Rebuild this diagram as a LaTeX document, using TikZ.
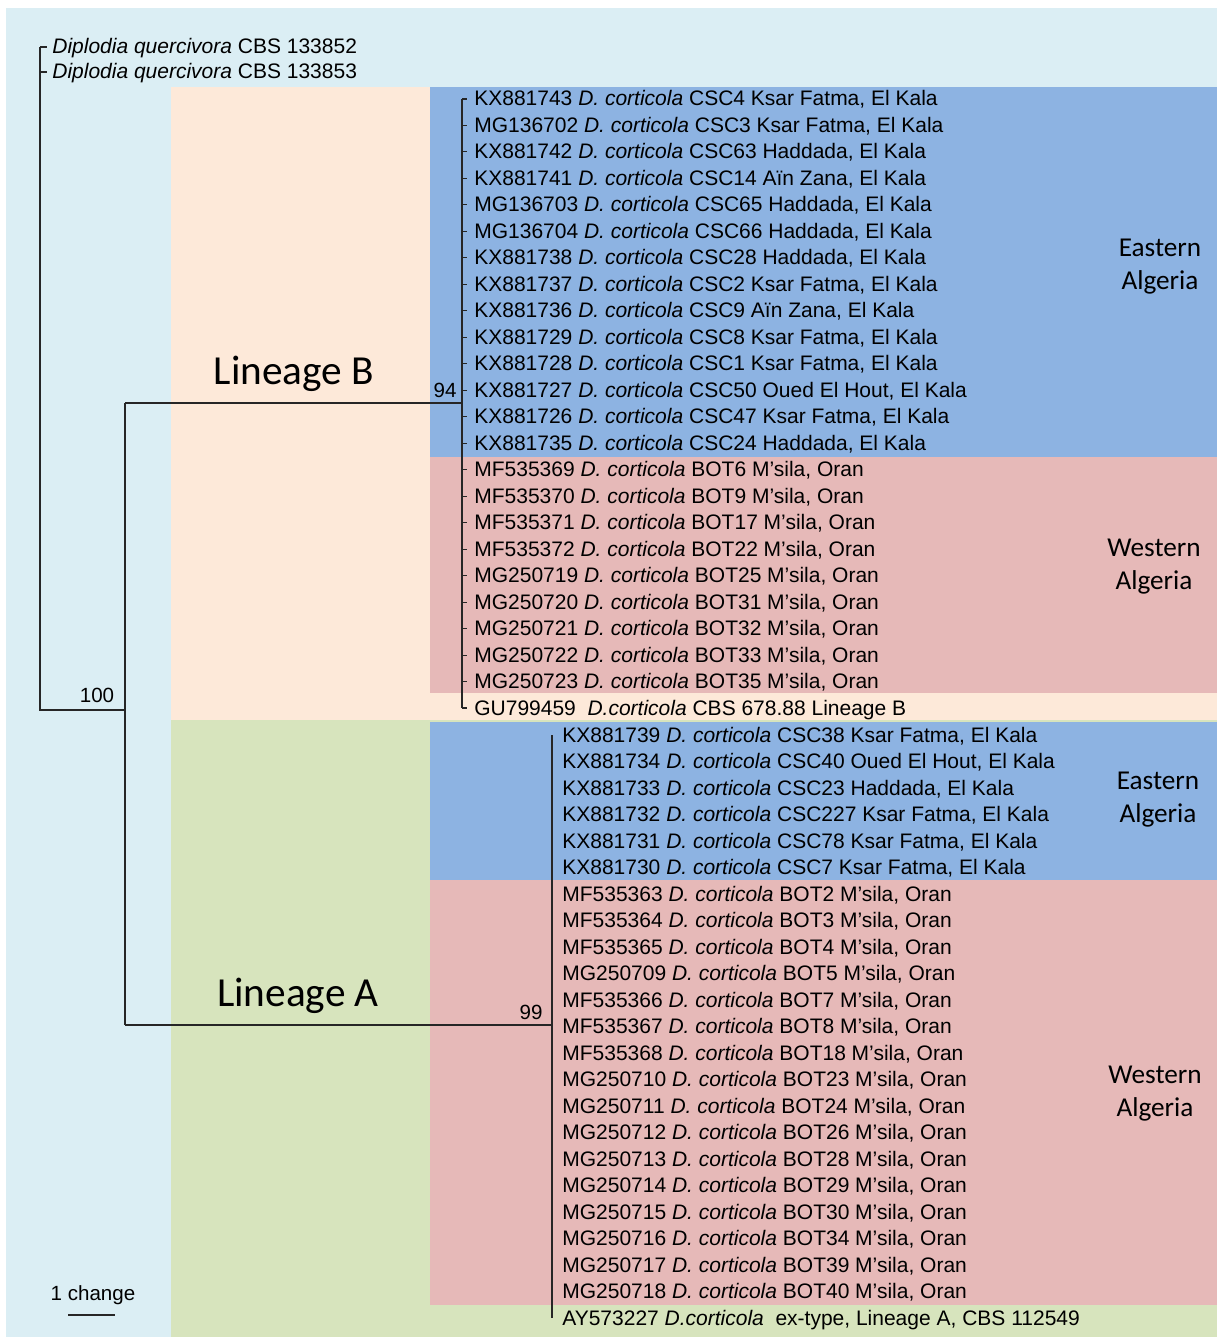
\documentclass[tikz,border=0pt]{standalone}
\usepackage{fontspec}
\setmainfont{Liberation Sans}
\newfontfamily\calfont{Carlito}
\definecolor{bgblue}{HTML}{DBEEF4}
\definecolor{peach}{HTML}{FDE9D9}
\definecolor{lgreen}{HTML}{D7E4BD}
\definecolor{eblue}{HTML}{8DB3E2}
\definecolor{wpink}{HTML}{E6B9B8}
\begin{document}
\begin{tikzpicture}[x=0.02cm,y=-0.02cm,
  tip/.style={anchor=base west,inner sep=0pt,font=\fontsize{11.95}{13.5}\selectfont},
  branch/.style={line width=1.1pt,black!85},
  ticks/.style={line width=0.6pt,black!85},
  support/.style={anchor=base,inner sep=0pt,font=\fontsize{11.7}{13}\selectfont},
  region/.style={align=center,inner sep=0pt,font=\calfont\fontsize{15.5}{18.7}\selectfont},
  lineage/.style={anchor=base,inner sep=0pt,font=\calfont\fontsize{23.5}{26}\selectfont}]
\useasboundingbox (0,0) rectangle (1217,1337);
\fill[white] (0,0) rectangle (1217,1337);
\fill[bgblue] (6,8) rectangle (1217,1337);
\fill[peach] (171,87) rectangle (1217,720);
\fill[lgreen] (171,720) rectangle (1217,1337);
\fill[eblue] (430,87) rectangle (1217,457);
\fill[wpink] (430,457) rectangle (1217,693);
\fill[eblue] (430,722) rectangle (1217,880);
\fill[wpink] (430,880) rectangle (1217,1305);

% outgroup
\node[tip] (og1) at (52,54) {\textit{Diplodia quercivora} CBS 133852};
\node[tip] (og2) at (52,79) {\textit{Diplodia quercivora} CBS 133853};
\coordinate (r1) at (40,47);
\coordinate (r2) at (40,72);
\coordinate (root) at (40,710);
\coordinate (n100) at (125,710);
\coordinate (n100t) at (125,403);
\coordinate (n100b) at (125,1025);
\coordinate (nB) at (462,403);
\coordinate (nA) at (552,1025);
\coordinate (nBtop) at (462,99);
\coordinate (nBbot) at (462,708);
\coordinate (nAtop) at (552,735);
\coordinate (nAbot) at (552,1318);
\draw[branch] (r1) -- ++(7,0);
\draw[branch] (r2) -- ++(7,0);
\draw[branch] (r1) -- (root) -- (n100);
\draw[branch] (n100t) -- (n100b);
\draw[branch] (n100t) -- (nB);
\draw[branch] (n100b) -- (nA);
\draw[branch] (nBtop) -- (nBbot);
\draw[branch] (nAtop) -- (nAbot);
\node[support] (s100) at (97,702) {100};
\node[support] (s94) at (445,398) {94};
\node[support] (s99) at (531,1019) {99};

% Lineage B tips
\foreach \acc/\rest [count=\i] in {
 KX881743/{CSC4 Ksar Fatma, El Kala},
 MG136702/{CSC3 Ksar Fatma, El Kala},
 KX881742/{CSC63 Haddada, El Kala},
 KX881741/{CSC14 Aïn Zana, El Kala},
 MG136703/{CSC65 Haddada, El Kala},
 MG136704/{CSC66 Haddada, El Kala},
 KX881738/{CSC28 Haddada, El Kala},
 KX881737/{CSC2 Ksar Fatma, El Kala},
 KX881736/{CSC9 Aïn Zana, El Kala},
 KX881729/{CSC8 Ksar Fatma, El Kala},
 KX881728/{CSC1 Ksar Fatma, El Kala},
 KX881727/{CSC50 Oued El Hout, El Kala},
 KX881726/{CSC47 Ksar Fatma, El Kala},
 KX881735/{CSC24 Haddada, El Kala},
 MF535369/{BOT6 M’sila, Oran},
 MF535370/{BOT9 M’sila, Oran},
 MF535371/{BOT17 M’sila, Oran},
 MF535372/{BOT22 M’sila, Oran},
 MG250719/{BOT25 M’sila, Oran},
 MG250720/{BOT31 M’sila, Oran},
 MG250721/{BOT32 M’sila, Oran},
 MG250722/{BOT33 M’sila, Oran},
 MG250723/{BOT35 M’sila, Oran}} {
  \pgfmathsetmacro\yy{99+(\i-1)*26.48}
  \coordinate (bt\i) at (462,\yy);
  \node[tip] (b\i) at (474,\yy+7) {\acc\ \textit{D. corticola} \rest};
  \draw[ticks] (bt\i) -- ++(5,0);
}
\coordinate (bt24) at (462,708);
\node[tip] (b24) at (474,715) {GU799459\ \ \textit{D.corticola} CBS 678.88 Lineage B};
\draw[ticks] (bt24) -- ++(5,0);

% Lineage A tips
\foreach \acc/\rest [count=\i] in {
 KX881739/{CSC38 Ksar Fatma, El Kala},
 KX881734/{CSC40 Oued El Hout, El Kala},
 KX881733/{CSC23 Haddada, El Kala},
 KX881732/{CSC227 Ksar Fatma, El Kala},
 KX881731/{CSC78 Ksar Fatma, El Kala},
 KX881730/{CSC7 Ksar Fatma, El Kala},
 MF535363/{BOT2 M’sila, Oran},
 MF535364/{BOT3 M’sila, Oran},
 MF535365/{BOT4 M’sila, Oran},
 MG250709/{BOT5 M’sila, Oran},
 MF535366/{BOT7 M’sila, Oran},
 MF535367/{BOT8 M’sila, Oran},
 MF535368/{BOT18 M’sila, Oran},
 MG250710/{BOT23 M’sila, Oran},
 MG250711/{BOT24 M’sila, Oran},
 MG250712/{BOT26 M’sila, Oran},
 MG250713/{BOT28 M’sila, Oran},
 MG250714/{BOT29 M’sila, Oran},
 MG250715/{BOT30 M’sila, Oran},
 MG250716/{BOT34 M’sila, Oran},
 MG250717/{BOT39 M’sila, Oran},
 MG250718/{BOT40 M’sila, Oran}} {
  \pgfmathsetmacro\yy{735+(\i-1)*26.5}
  \node[tip] (a\i) at (562,\yy+7) {\acc\ \textit{D. corticola} \rest};
}
\node[tip] (a23) at (562,1325) {AY573227 \textit{D.corticola}\ \ ex-type, Lineage A, CBS 112549};

% labels
\node[lineage] (linB) at (294,385) {Lineage B};
\node[lineage] (linA) at (298,1006) {Lineage A};
\node[region] (eastB) at (1160,267) {Eastern\\Algeria};
\node[region] (westB) at (1154,567) {Western\\Algeria};
\node[region] (eastA) at (1158,800) {Eastern\\Algeria};
\node[region] (westA) at (1155,1094) {Western\\Algeria};

% scale bar
\node[support] (scl) at (93,1300) {1 change};
\coordinate (sb1) at (68,1315);
\coordinate (sb2) at (115,1315);
\draw[line width=1pt,black!85] (sb1) -- (sb2);
\end{tikzpicture}
\end{document}
